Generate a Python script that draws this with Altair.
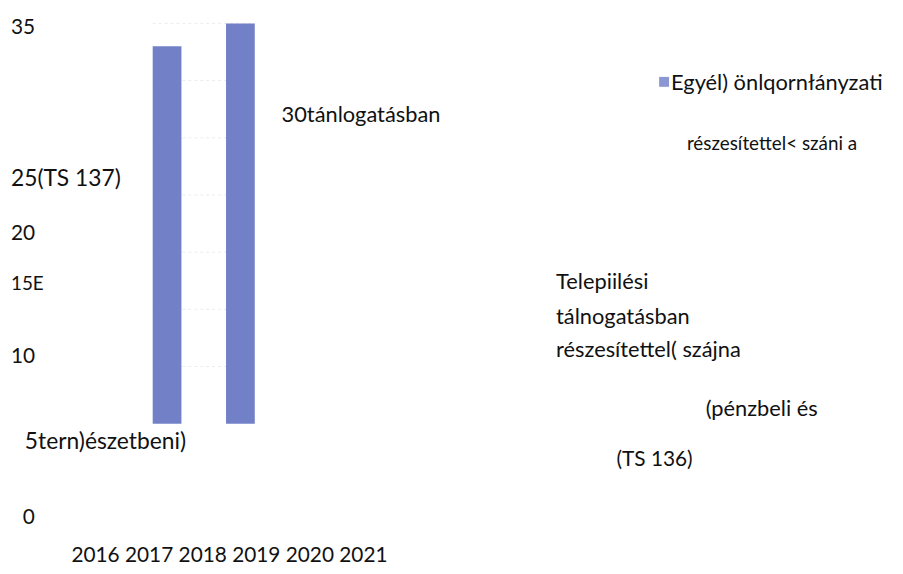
import altair as alt
import pandas as pd

# --- data -------------------------------------------------------------
bar_ids = [0, 1]
bar_values = [33, 35]
grid_values = [5, 10, 15, 20, 25, 30, 35]

FONT = "Lato"
BAR_COLOR = "#7280C8"

bars_df = pd.DataFrame({"id": bar_ids, "value": bar_values})
grid_df = pd.DataFrame({"v": grid_values})

yscale = alt.Scale(domain=[0, 35], range=[417, 13], nice=False, zero=True)
xscale = alt.Scale(domain=[0, 1], range=[160.5, 234.5], nice=False, zero=False, padding=0)

grid = alt.Chart(grid_df).mark_rule(color="#ececec", strokeDash=[3, 3], strokeWidth=1).encode(
    y=alt.Y("v:Q", scale=yscale, axis=None),
    x=alt.value(146),
    x2=alt.value(249),
)

bars = alt.Chart(bars_df).mark_bar(size=29, color=BAR_COLOR).encode(
    x=alt.X("id:Q", scale=xscale, axis=None),
    y=alt.Y("value:Q", scale=yscale, axis=None),
)

# annotations: (text, x, y, fontsize) in chart pixels
annotations = [
    ("35", 3, 18, 21),
    ("25(TS 137)", 3, 170, 23),
    ("20", 3, 226, 21),
    ("15E", 3, 276, 19),
    ("10", 3, 350, 21),
    ("5tern)észetbeni)", 17, 435, 23),
    ("0", 15, 512, 21),
    ("2016 2017 2018 2019 2020 2021", 64, 550, 21),
    ("30tánlogatásban", 276, 106, 22),
    ("Egyél) önlqornłányzati", 669, 73, 22),
    ("részesítettel< száni a", 685, 135, 19),
    ("Telepiilési", 553, 274, 22),
    ("tálnogatásban", 553, 309, 22),
    ("részesítettel( szájna", 553, 343, 22),
    ("(pénzbeli és", 704, 402, 22),
    ("(TS 136)", 614, 454, 21),
]

layers = [grid, bars]
for txt, tx, ty, fs in annotations:
    layers.append(
        alt.Chart(pd.DataFrame({"t": [txt]})).mark_text(
            align="left", baseline="middle", font=FONT, fontSize=fs, color="#111111"
        ).encode(text="t:N", x=alt.value(tx), y=alt.value(ty))
    )

legend_sq = alt.Chart(pd.DataFrame({"a": [1]})).mark_rect(color="#8C96D2").encode(
    x=alt.value(657), x2=alt.value(667), y=alt.value(67), y2=alt.value(77)
)
layers.append(legend_sq)

chart = alt.layer(*layers).properties(
    width=895, height=558, padding=0,
    autosize=alt.AutoSizeParams(type="none"),
    background="white",
).configure_view(stroke=None)

chart.save("out.html", embed_options={"renderer": "svg", "actions": False})
